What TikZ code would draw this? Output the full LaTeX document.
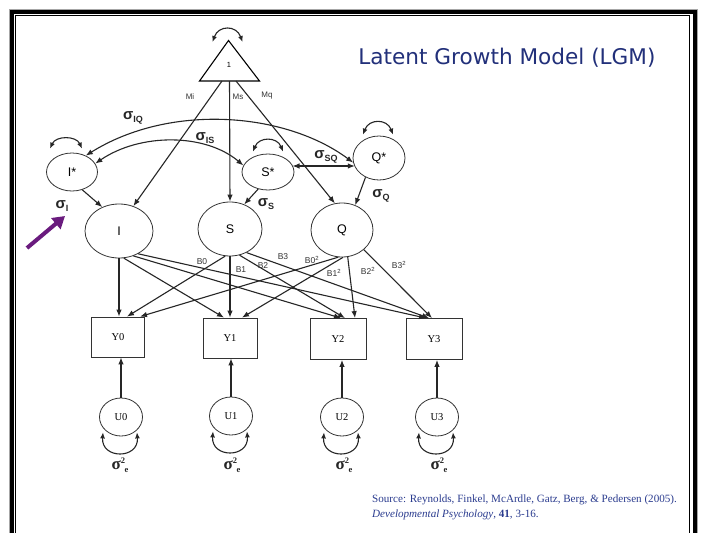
\documentclass[tikz,border=0pt]{standalone}
\usepackage{fontspec}
\setmainfont{Liberation Sans}
\newfontfamily\serifff{Liberation Serif}
\newfontfamily\titlefont{DejaVu Sans}
\usetikzlibrary{arrows.meta,calc,shapes.geometric}
\definecolor{navy}{HTML}{22307A}
\definecolor{srcblue}{HTML}{2B3C8F}
\definecolor{purp}{HTML}{6A1B7E}
\newcommand{\sigl}[1]{σ\raisebox{-3pt}{\fontsize{9}{9}\selectfont #1}}
\newcommand{\sige}{σ\raisebox{5.5pt}{\fontsize{8.5}{9}\selectfont 2}\kern-0.5pt\raisebox{-3pt}{\fontsize{8.5}{9}\selectfont e}}
\begin{document}
\begin{tikzpicture}[x=1pt,y=-1pt,
  edge/.style={line width=1.1pt, -{Latex[length=7pt,width=5.5pt]}, black!85},
  twohead/.style={line width=1.1pt, {Latex[length=7pt,width=5.5pt]}-{Latex[length=7pt,width=5.5pt]}, black!85},
  loopst/.style={line width=1.1pt, {Latex[length=6pt,width=5pt]}-{Latex[length=6pt,width=5pt]}, black!85},
  latent/.style={draw=black!80, line width=0.8pt, ellipse, inner sep=0pt, font=\fontsize{12.5}{13}\selectfont},
  obs/.style={draw=black!80, line width=0.8pt, rectangle, inner sep=0pt, font=\serifff\fontsize{10.5}{12}\selectfont},
  errn/.style={draw=black!80, line width=0.8pt, ellipse, inner sep=0pt, minimum width=43pt, minimum height=38pt, font=\serifff\fontsize{10.5}{12}\selectfont},
  lab/.style={font=\fontsize{8.5}{9}\selectfont, text=black!80, inner sep=0pt},
  sig/.style={font=\bfseries\fontsize{15}{16}\selectfont, inner sep=0pt, text=black!85},
  sige/.style={font=\serifff\bfseries\fontsize{17}{18}\selectfont, inner sep=0pt, text=black!85},
]
\useasboundingbox (0,0) rectangle (704,533);
\fill[white] (0,0) rectangle (704,533);
% frame
\draw[black!35, line width=1pt] (9,533) -- (9,9) -- (697.5,9) -- (697.5,533);
\draw[line width=4pt] (12,533) -- (12,12) -- (694.5,12) -- (694.5,533);
\draw[line width=1.3pt] (15.8,533) -- (15.8,15.8) -- (689.8,15.8) -- (689.8,533);

% title
\node[font=\titlefont\fontsize{21.6}{24}\selectfont, text=navy] (title) at (507,58) {Latent Growth Model (LGM)};

% triangle
\coordinate (apex) at (228.5,40.5);
\draw[line width=1.1pt, line join=miter] (apex) -- (259.5,81) -- (199.5,81) -- cycle;
\node[font=\fontsize{7.5}{8}\selectfont, inner sep=0pt] (one) at (229,65) {1};
\coordinate (mi0) at (222,81);
\coordinate (ms0) at (229.5,81);
\coordinate (mq0) at (236,81);
\draw[loopst] ($(apex)+(-16,1.5)$) .. controls +(6,-17) and +(-6,-17) .. ($(apex)+(14,1.5)$);

\node[lab, font=\fontsize{8}{8}\selectfont] (mil) at (190,97) {Mi};
\node[lab, font=\fontsize{8}{8}\selectfont] (msl) at (238,97) {Ms};
\node[lab, font=\fontsize{8}{8}\selectfont] (mql) at (267,96) {Mq};

% latent nodes
\node[latent, minimum width=68pt, minimum height=54pt] (I) at (119,231) {I};
\node[latent, minimum width=64pt, minimum height=54pt] (S) at (230,229) {S};
\node[latent, minimum width=62pt, minimum height=54pt] (Q) at (342,230) {Q};
\node[latent, minimum width=51pt, minimum height=38pt] (Istar) at (72,172) {I*};
\node[latent, minimum width=52pt, minimum height=36pt] (Sstar) at (268,172) {S*};
\node[latent, minimum width=52pt, minimum height=44pt] (Qstar) at (379,158) {Q*};

% observed
\node[obs, minimum width=53pt, minimum height=40pt] (Y0) at (118,337) {Y0};
\node[obs, minimum width=54pt, minimum height=40pt] (Y1) at (230,338) {Y1};
\node[obs, minimum width=56pt, minimum height=41pt] (Y2) at (338,339) {Y2};
\node[obs, minimum width=56pt, minimum height=41pt] (Y3) at (434,339) {Y3};

% errors
\node[errn] (U0) at (121,417) {U0};
\node[errn] (U1) at (231,416) {U1};
\node[errn] (U2) at (342,417) {U2};
\node[errn] (U3) at (437,417) {U3};

% self loops
\draw[loopst] ($(Istar.north)+(-22,-4)$) .. controls +(6,-13) and +(-6,-13) .. ($(Istar.north)+(10,-4)$);
\draw[loopst] ($(Sstar.north)+(-15,-2)$) .. controls +(6,-15) and +(-6,-15) .. ($(Sstar.north)+(15,-2)$);
\draw[loopst] ($(Qstar.north)+(-16,-1)$) .. controls +(6,-16) and +(-6,-16) .. ($(Qstar.north)+(14,-1)$);
\foreach \u in {U0,U1,U2,U3}{
  \draw[loopst] ($(\u.south)+(-18,-4)$) .. controls +(-2,27) and +(2,27) .. ($(\u.south)+(16,-4)$);
}

% means
\draw[edge] (mi0) -- (I.60);
\draw[edge] (ms0) -- (S.north);
\draw[edge] (mq0) -- (Q.105);

% star to latent
\draw[edge] (Istar.300) -- (I.125);
\draw[edge] (Sstar.240) -- (S.60);
\draw[edge] (Qstar.235) -- (Q.62);

% covariances
\draw[twohead] (Istar.50) .. controls (170,103) and (285,112) .. (Qstar.190);
\draw[twohead] (Istar.20) .. controls (140,133) and (205,133) .. (Sstar.165);
\draw[twohead] ($(Sstar.center)+(24.5,-6)$) -- ($(Qstar.center)+(-24.2,8)$);

% sigma labels
\node[sig] (sIQ) at (133,118) {\sigl{IQ}};
\node[sig] (sIS) at (205,138) {\sigl{IS}};
\node[sig] (sSQ) at (326,157) {\sigl{SQ}};
\node[sig] (sQ) at (381,196) {\sigl{Q}};
\node[sig] (sS) at (266,204) {\sigl{S}};
\node[sig] (sI) at (62,206) {\sigl{I}};

% purple pointer
\coordinate (ptail) at (27,248);
\coordinate (phead) at (65,216);
\draw[purp, line width=4pt, -{Triangle[length=12pt,width=14pt]}] (ptail) -- (phead);

% loadings
\draw[edge] (I.south) -- (I.south |- Y0.north);
\draw[edge] (I.280) -- ($(Y1.north)+(-6,0)$);
\draw[edge] (I.300) -- ($(Y2.north)+(3,0)$);
\draw[edge] (I.310) -- ($(Y3.north)+(-8,0)$);
\draw[edge] (S.260) -- ($(Y0.north)+(9,0)$);
\draw[edge] (S.south) -- (S.south |- Y1.north);
\draw[edge] (S.290) -- ($(Y2.north)+(7,0)$);
\draw[edge] (S.305) -- ($(Y3.north)+(-5,0)$);
\draw[edge] (Q.262) -- ($(Y0.north)+(22,0)$);
\draw[edge] (Q.272) -- ($(Y1.north)+(12,0)$);
\draw[edge] (Q.282) -- ($(Y2.north)+(17,0)$);
\draw[edge] (Q.318) -- ($(Y3.north)+(-2,0)$);

\node[lab] (b0) at (202,262) {B0};
\node[lab] (b1) at (241,270) {B1};
\node[lab] (b2) at (263,266) {B2};
\node[lab] (b3) at (283,257) {B3};
\node[lab] (q0) at (312,260) {B0\textsuperscript{2}};
\node[lab] (q1) at (334,273) {B1\textsuperscript{2}};
\node[lab] (q2) at (368,271) {B2\textsuperscript{2}};
\node[lab] (q3) at (399,265) {B3\textsuperscript{2}};

% errors to observed
\foreach \u/\y in {U0/Y0,U1/Y1,U2/Y2,U3/Y3}{
  \draw[edge] (\u.north) -- (\u.north |- \y.south);
}
\node[sige] (e0) at (120,465) {\sige};
\node[sige] (e1) at (232,465) {\sige};
\node[sige] (e2) at (344,465) {\sige};
\node[sige] (e3) at (439,465) {\sige};

% source
\node[anchor=west, inner sep=0pt, font=\serifff\fontsize{11.1}{12}\selectfont, text=srcblue] (src1) at (372,500) {Source: Reynolds, Finkel, McArdle, Gatz, Berg, \& Pedersen (2005).};
\node[anchor=west, inner sep=0pt, font=\serifff\fontsize{11.1}{12}\selectfont, text=srcblue] (src2) at (372,515) {\textit{Developmental Psychology}, \textbf{41}, 3-16.};
\end{tikzpicture}
\end{document}
